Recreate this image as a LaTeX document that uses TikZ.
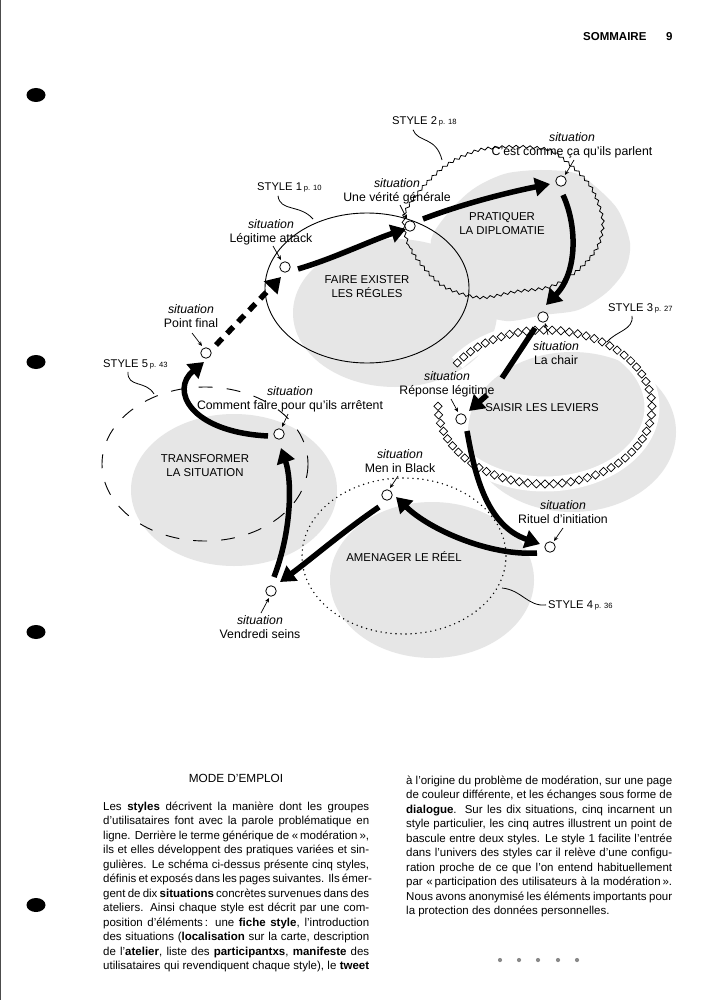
\documentclass[tikz,border=0pt]{standalone}
\usepackage{fontspec}
\setmainfont{Liberation Sans}
\usetikzlibrary{arrows.meta,decorations.pathmorphing,decorations.markings,shapes.geometric,calc}
\definecolor{blobgray}{HTML}{E6E6E6}
\definecolor{dotgray}{HTML}{8A8A8A}
\newcommand\lblfont{\fontsize{12.3}{14}\selectfont}
\newcommand\capfont{\fontsize{11.4}{14.5}\selectfont}
\newcommand\stfont{\fontsize{11.2}{13}\selectfont}
\newcommand\pgsmall{\fontsize{7.6}{8}\selectfont}
\newcommand\bodyfont{\fontsize{11.5}{14.5}\selectfont}
\newcommand\jline[1]{\hbox to\hsize{#1}}
\begin{document}
\begin{tikzpicture}[x=1pt,y=-1pt,
  sit/.style={circle,draw,fill=white,line width=0.8pt,minimum size=10.5pt,inner sep=0pt},
  lbl/.style={align=center,inner sep=0pt,font=\lblfont},
  capl/.style={align=center,inner sep=0pt,font=\capfont},
  stylbl/.style={anchor=base west,inner sep=0pt,font=\stfont},
  flow/.style={line width=5.5pt,-{Triangle[length=15pt,width=18pt]}},
  flowplain/.style={line width=5.5pt},
  ptr/.style={line width=0.7pt,-{Stealth[length=4.5pt,width=4pt]}},
  leadline/.style={line width=0.8pt},
  dia/.style={draw,diamond,aspect=1,minimum size=8.6pt,inner sep=0pt,line width=0.7pt,fill=white}
]
\useasboundingbox (0,0) rectangle (707,1000);
\fill[white] (0,0) rectangle (707,1000);
\draw[black!70, line width=1.2pt] (0.6,0) -- (0.6,1000);
\foreach \yy in {95,362,632,905} \fill (36,\yy) ellipse[x radius=9.5, y radius=7];

% header
\node[anchor=base west, inner sep=0pt, font=\fontsize{11.5}{13}\selectfont\bfseries] (hdr) at (583,41) {SOMMAIRE};
\node[anchor=base west, inner sep=0pt, font=\fontsize{11.5}{13}\selectfont\bfseries] (pgno) at (666,41) {9};

% gray shadow blobs
\fill[blobgray] (395,313) ellipse[x radius=102, y radius=74];
\begin{scope}[shift={(28,25)}]
\fill[blobgray] plot[smooth cycle] coordinates {(403,215) (410,248) (440,283) (478,296) (515,290) (550,285) (578,268) (597,245) (602,218) (590,185) (568,162) (547,148) (513,145) (480,148) (457,157) (440,168) (420,188)};
\end{scope}
\fill[blobgray] (572,432) ellipse[x radius=104, y radius=80];
\fill[blobgray] (234,490) ellipse[x radius=103, y radius=76];
\fill[blobgray] (432,580) ellipse[x radius=102, y radius=78];

% style outlines
\draw[line width=0.9pt] (367,288) ellipse[x radius=102, y radius=75];
\draw[line width=0.8pt, decorate, decoration={snake, amplitude=1.3pt, segment length=7pt}]
  plot[smooth cycle] coordinates {(403,215) (410,248) (440,283) (478,296) (515,290) (550,285) (578,268) (597,245) (602,218) (590,185) (568,162) (547,148) (513,145) (480,148) (457,157) (440,168) (420,188)};
\draw[white, line width=15pt] ({545+107*cos(215)},{407+77*sin(215)}) arc[start angle=215, end angle=543, x radius=107, y radius=77];
\path[decorate, decoration={markings, mark=between positions 0 and 1 step 8.6pt with {\node[dia]{};}}]
  ({545+107*cos(215)},{407+77*sin(215)}) arc[start angle=215, end angle=543, x radius=107, y radius=77];
\draw[line width=1.6pt, line cap=round, dash pattern=on 0pt off 5pt] (404,556) ellipse[x radius=102, y radius=78];
\draw[line width=0.9pt, dash pattern=on 14pt off 14pt] (205,464) ellipse[x radius=103, y radius=77];

% style labels and leaders
\node[stylbl] (st1) at (257,191) {STYLE 1\,{\pgsmall p. 10}};
\node[stylbl] (st2) at (392,125) {STYLE 2\,{\pgsmall p. 18}};
\node[stylbl] (st3) at (608,311) {STYLE 3\,{\pgsmall p. 27}};
\node[stylbl] (st5) at (103,367) {STYLE 5\,{\pgsmall p. 43}};
\node[stylbl] (st4) at (548,608) {STYLE 4\,{\pgsmall p. 36}};
\draw[leadline] ($(st1.south west)+(21,3)$) .. controls (280,212) and (300,204) .. (313,219);
\draw[leadline] ($(st2.south west)+(21,3)$) .. controls (418,143) and (436,136) .. (442,160);
\draw[leadline] ($(st3.south west)+(24,3)$) .. controls (634,330) and (616,331) .. (607,342);
\draw[leadline] ($(st5.south west)+(25,3)$) .. controls (127,388) and (146,380) .. (154,394);
\draw[leadline] (502,588) .. controls (522,590) and (528,607) .. ($(st4.west)+(-2,0)$);

% situations
\node[sit] (s1) at (285,267) {};
\node[sit] (s2) at (410,226) {};
\node[sit] (s3) at (561,181) {};
\node[sit] (s4) at (543,317) {};
\node[sit] (s5) at (461,419) {};
\node[sit] (s6) at (550,547) {};
\node[sit] (s7) at (387,495) {};
\node[sit] (s8) at (271,591) {};
\node[sit] (s9) at (279,434) {};
\node[sit] (s10) at (206,353) {};

\node[lbl] (l1) at (271,232.5) {\textit{situation}\\Légitime attack};
\node[lbl] (l2) at (397,191.5) {\textit{situation}\\Une vérité générale};
\node[lbl] (l3) at (572,145.5) {\textit{situation}\\C'est comme ça qu'ils parlent};
\node[lbl] (l4) at (556,353.5) {\textit{situation}\\La chair};
\node[lbl] (l5) at (447,384.5) {\textit{situation}\\Réponse légitime};
\node[lbl] (l6) at (563,512) {\textit{situation}\\Rituel d'initiation};
\node[lbl] (l7) at (400,461) {\textit{situation}\\Men in Black};
\node[lbl] (l8) at (260,627.5) {\textit{situation}\\Vendredi seins};
\node[lbl] (l9) at (290,399.5) {\textit{situation}\\Comment faire pour qu'ils arrêtent};
\node[lbl] (l10) at (191,316) {\textit{situation}\\Point final};

\draw[ptr] ($(s1)+(-12,-21)$) -- ($(s1)+(-4,-7)$);
\draw[ptr] ($(s2)+(-10,-21)$) -- ($(s2)+(-3,-7)$);
\draw[ptr] ($(s3)+(13,-21)$) -- ($(s3)+(4,-6)$);
\draw[ptr] ($(s4)+(5,18)$) -- ($(s4)+(2,6)$);
\draw[ptr] ($(s5)+(-10,-20)$) -- ($(s5)+(-3,-7)$);
\draw[ptr] ($(s6)+(13,-19)$) -- ($(s6)+(4,-6)$);
\draw[ptr] ($(s7)+(11,-19)$) -- ($(s7)+(3,-7)$);
\draw[ptr] ($(s8)+(-10,22)$) -- ($(s8)+(-2,7)$);
\draw[ptr] ($(s9)+(9,-20)$) -- ($(s9)+(3,-7)$);
\draw[ptr] ($(s10)+(-14,-20)$) -- ($(s10)+(-4,-7)$);

% area labels
\node[capl] (a1) at (367,286.5) {FAIRE EXISTER\\LES RÉGLES};
\node[capl] (a2) at (502,223.5) {PRATIQUER\\LA DIPLOMATIE};
\node[capl] (a3) at (542,408) {SAISIR LES LEVIERS};
\node[capl] (a4) at (205,465.5) {TRANSFORMER\\LA SITUATION};
\node[capl] (a5) at (404,557) {AMENAGER LE RÉEL};

% flow arrows
\draw[flow] ($(s1)+(13,2)$) .. controls (335,258) and (372,240) .. ($(s2)+(-4,3)$);
\draw[flow] ($(s2)+(13,-7)$) .. controls (465,203) and (510,192) .. ($(s3)+(-11,3)$);
\draw[flow] ($(s3)+(2,14)$) .. controls (577,225) and (578,272) .. ($(s4)+(3,-12)$);
\draw[flowplain] ($(s4)+(-8,11)$) -- ($(s5)+(41,-41)$);
\draw[flow] ($(s5)+(26,-24)$) -- ($(s5)+(8,-8)$);
\draw[flow] ($(s5)+(6,12)$) .. controls (474,470) and (485,525) .. ($(s6)+(-10,-3)$);
\draw[flow] ($(s6)+(-13,6)$) .. controls (490,556) and (430,530) .. ($(s7)+(9,2)$);
\draw[flow] ($(s7)+(-8,12)$) .. controls (345,530) and (310,560) .. ($(s8)+(9,-9)$);
\draw[flow] ($(s8)+(3,-14)$) .. controls (292,530) and (292,480) .. ($(s9)+(2,14)$);
\draw[flow] ($(s9)+(-11,2)$) .. controls (190,432) and (170,390) .. ($(s10)+(-2,9)$);
\draw[flow, dash pattern=on 9pt off 7pt] ($(s10)+(10,-8)$) -- ($(s1)+(-4,10)$);

% text
\node[anchor=base, inner sep=0pt, font=\fontsize{11.8}{14}\selectfont] (mode) at (236,782) {MODE D'EMPLOI};
\node[anchor=base west, inner sep=0pt] (colL) at (103,810) {\vtop{\hsize=266pt \bodyfont \baselineskip=14.5pt
\jline{Les \textbf{styles} décrivent la manière dont les groupes}
\jline{d'utilisataires font avec la parole problématique en}
\jline{ligne. Derrière le terme générique de «\,modération\,»,}
\jline{ils et elles développent des pratiques variées et sin-}
\jline{gulières. Le schéma ci-dessus présente cinq styles,}
\jline{définis et exposés dans les pages suivantes. Ils émer-}
\jline{gent de dix \textbf{situations} concrètes survenues dans des}
\jline{ateliers. Ainsi chaque style est décrit par une com-}
\jline{position d'éléments\,: une \textbf{fiche style}, l'introduction}
\jline{des situations (\textbf{localisation} sur la carte, description}
\jline{de l'\textbf{atelier}, liste des \textbf{participantxs}, \textbf{manifeste} des}
\jline{utilisataires qui revendiquent chaque style), le \textbf{tweet}}}};
\node[anchor=base west, inner sep=0pt] (colR) at (406,784) {\vtop{\hsize=266pt \bodyfont \baselineskip=14.5pt
\jline{à l'origine du problème de modération, sur une page}
\jline{de couleur différente, et les échanges sous forme de}
\jline{\textbf{dialogue}. Sur les dix situations, cinq incarnent un}
\jline{style particulier, les cinq autres illustrent un point de}
\jline{bascule entre deux styles. Le style 1 facilite l'entrée}
\jline{dans l'univers des styles car il relève d'une configu-}
\jline{ration proche de ce que l'on entend habituellement}
\jline{par «\,participation des utilisateurs à la modération\,».}
\jline{Nous avons anonymisé les éléments importants pour}
\hbox{la protection des données personnelles.}}};
\foreach \xx in {500,519,538,558,577} \fill[dotgray] (\xx,960) circle[radius=2.1];
\end{tikzpicture}
\end{document}
